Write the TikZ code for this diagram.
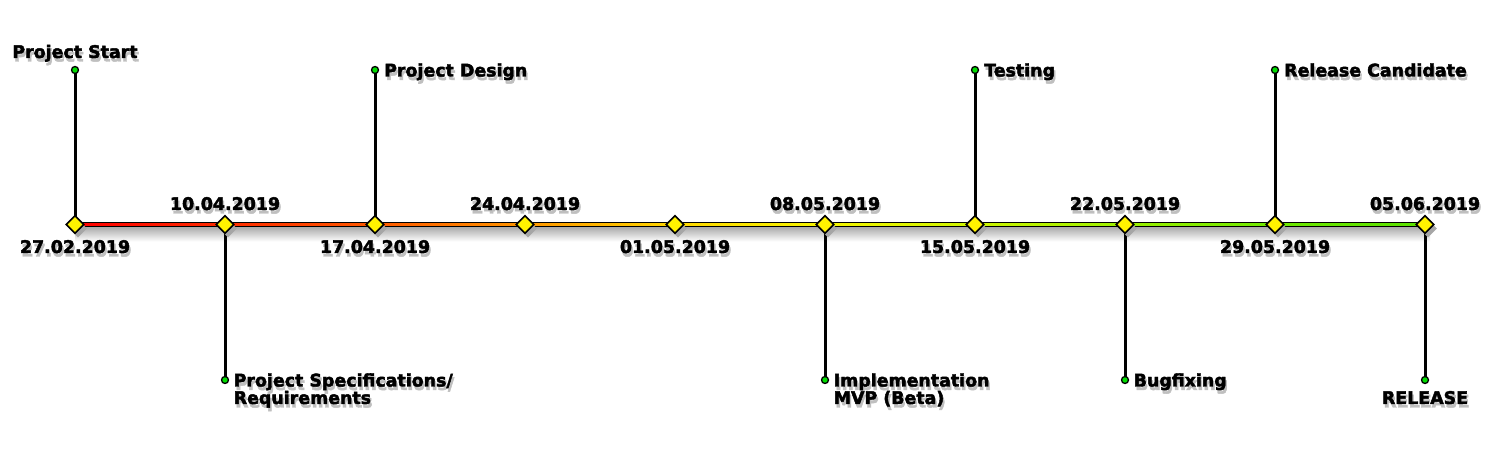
\documentclass[tikz,border=0pt]{standalone}
\usepackage{fontspec}
\newfontfamily\heavyfont{DejaVu Sans Bold}[FakeBold=2.5]
\usetikzlibrary{shapes.geometric}
\definecolor{c1}{RGB}{255,0,0}
\definecolor{c2}{RGB}{255,45,0}
\definecolor{c3}{RGB}{255,90,0}
\definecolor{c4}{RGB}{255,150,0}
\definecolor{c5}{RGB}{255,215,0}
\definecolor{c6}{RGB}{245,245,0}
\definecolor{c7}{RGB}{205,245,0}
\definecolor{c8}{RGB}{155,240,0}
\definecolor{c9}{RGB}{110,232,0}
\definecolor{c10}{RGB}{90,225,0}
\definecolor{dotgreen}{RGB}{0,220,0}
\begin{document}
\begin{tikzpicture}[x=1pt,y=1pt,
  txt/.style={font=\fontsize{17.4}{17.5}\selectfont\heavyfont, inner sep=0pt, text=black},
  shd/.style={txt, text=black!25},
  stem/.style={line width=3pt, black},
  milestone/.style={diamond, minimum width=18pt, minimum height=18pt, inner sep=0pt, fill=yellow, draw=black, line width=1.6pt},
  msshadow/.style={diamond, minimum width=18pt, minimum height=18pt, inner sep=0pt, fill=black!35, draw=none},
  enddot/.style={circle, minimum size=7pt, inner sep=0pt, fill=dotgreen, draw=black, line width=1.3pt}
]
\useasboundingbox (0,0) rectangle (1500,450);
\fill[white] (0,0) rectangle (1500,450);
% milestone coordinates
\foreach \i in {1,...,10} {
  \coordinate (d\i) at ({75+150*(\i-1)},225.5);
}
% stem ends
\coordinate (t1) at (75,380);
\coordinate (b2) at (225,70);
\coordinate (t3) at (375,380);
\coordinate (b6) at (825,70);
\coordinate (t7) at (975,380);
\coordinate (b8) at (1125,70);
\coordinate (t9) at (1275,380);
\coordinate (b10) at (1425,70);
% line shadow
\shade[top color=black!32, bottom color=white] ([yshift=-3pt]d1) rectangle ([xshift=5pt,yshift=-17pt]d10);
% stems
\foreach \a/\b in {d1/t1,d2/b2,d3/t3,d6/b6,d7/t7,d8/b8,d9/t9,d10/b10} {
  \draw[stem] (\a) -- (\b);
}
% main line
\draw[line width=5.8pt, black] (d1) -- (d10);
\foreach \i/\j in {1/2,2/3,3/4,4/5,5/6,6/7,7/8,8/9,9/10} {
  \shade[left color=c\i, right color=c\j] ([yshift=-1.3pt]d\i) rectangle ([yshift=1.3pt]d\j);
}
% diamond shadows and diamonds
\foreach \i in {1,...,10} {
  \node[msshadow] (s\i) at ([shift={(3pt,-4pt)}]d\i) {};
}
\foreach \i in {1,...,10} {
  \node[milestone] (m\i) at (d\i) {};
}
% end dots
\foreach \p in {t1,b2,t3,b6,t7,b8,t9,b10} {
  \node[enddot] (dot\p) at (\p) {};
}
% labels with shadows
\newcommand{\shlabel}[4]{% name, anchor, position, text
  \node[shd, anchor=#2] (#1sh) at ([shift={(1.5pt,-3.5pt)}]#3) {#4};
  \node[txt, anchor=#2] (#1) at (#3) {#4};
}
\shlabel{lstart}{base}{75,392}{Project Start}
\shlabel{ldesign}{base west}{384,373.5}{Project Design}
\shlabel{ltest}{base west}{984,373.5}{Testing}
\shlabel{lrc}{base west}{1284,373.5}{Release Candidate}
\shlabel{lspecA}{base west}{233.5,63.5}{Project Specifications/}
\shlabel{lspecB}{base west}{233.5,46}{Requirements}
\shlabel{limplA}{base west}{833.5,63.5}{Implementation}
\shlabel{limplB}{base west}{833.5,46}{MVP (Beta)}
\shlabel{lbug}{base west}{1133.5,63.5}{Bugfixing}
\shlabel{lrel}{base}{1425,46}{RELEASE}
% dates
\shlabel{dt1}{base}{75,197}{27.02.2019}
\shlabel{dt2}{base}{225,240}{10.04.2019}
\shlabel{dt3}{base}{375,197}{17.04.2019}
\shlabel{dt4}{base}{525,240}{24.04.2019}
\shlabel{dt5}{base}{675,197}{01.05.2019}
\shlabel{dt6}{base}{825,240}{08.05.2019}
\shlabel{dt7}{base}{975,197}{15.05.2019}
\shlabel{dt8}{base}{1125,240}{22.05.2019}
\shlabel{dt9}{base}{1275,197}{29.05.2019}
\shlabel{dt10}{base}{1425,240}{05.06.2019}
\end{tikzpicture}
\end{document}
